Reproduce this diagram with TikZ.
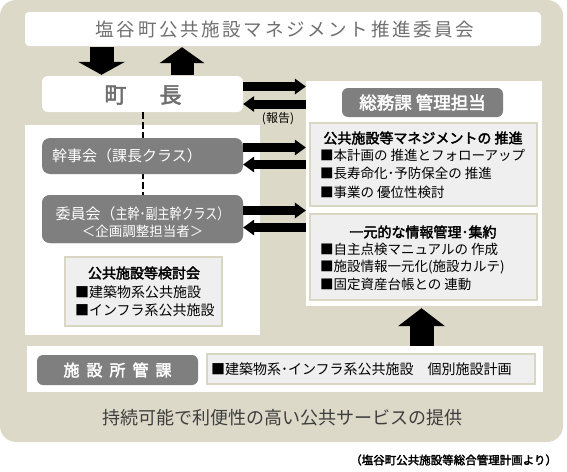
\documentclass[tikz,border=0pt]{standalone}
\usepackage{graphicx}
\usepackage{fontspec}
\setmainfont{Noto Sans CJK JP}[AutoFakeBold=2.5]
\usetikzlibrary{arrows.meta,fit}
\definecolor{beige}{RGB}{221,217,200}
\definecolor{boxgray}{RGB}{127,127,127}
\definecolor{lfill}{RGB}{239,239,239}
\definecolor{lborder}{RGB}{218,214,196}
\definecolor{titlegray}{RGB}{112,112,112}
\definecolor{chougray}{RGB}{110,110,110}
\definecolor{maintext}{RGB}{62,62,62}
\begin{document}
\begin{tikzpicture}[x=1pt,y=-1pt,
  panel/.style={fill=white,inner sep=0pt,draw=none},
  gbox/.style={fill=boxgray,inner sep=0pt,rounded corners=6pt},
  lbox/.style={fill=lfill,draw=lborder,line width=2.5pt,inner sep=0pt},
  txt/.style={inner sep=0pt,outer sep=0pt},
  item/.style={txt,anchor=west,font=\fontsize{13.5}{15}\selectfont},
  head/.style={txt,font=\bfseries\fontsize{14}{16}\selectfont},
  harrow/.style={line width=9pt,-{Triangle[width=16pt,length=11pt,line width=0pt]}},
]
\useasboundingbox (0,0) rectangle (567,471);
% background
\node[fill=beige,rounded corners=16pt,inner sep=0pt,fit={(0,0) (563,442)}] (bg) {};
% panels
\node[panel,rounded corners=4pt,fit={(25,12) (541,46)}] (topbar) {};
\node[panel,rounded corners=6pt,fit={(42,76) (243,112)}] (chou) {};
\node[panel,fit={(306,81) (542,306)}] (rpanel) {};
\node[panel,fit={(25,125) (260,335)}] (lpanel) {};
\node[panel,fit={(27,346) (543,392)}] (bpanel) {};
% dashed line
\coordinate (dx) at (143,0);
\node[gbox,rounded corners=8pt,fit={(42,195) (243,243)}] (iin) {};
\draw[line width=2.5pt,dash pattern=on 6.5pt off 3.5pt] (chou.south -| dx) -- (iin.north -| dx);
% gray boxes
\node[gbox,rounded corners=8pt,fit={(42,138) (243,174)}] (kanji) {};
\node[gbox,rounded corners=8pt,fit={(42,195) (243,243)}] (iin2) {};
\node[gbox,fit={(342,88) (503,117)}] (soumu) {};
\node[gbox,fit={(37,355) (198,385)}] (shisetsu) {};
% light boxes
\node[lbox,fit={(310,123) (537,206)}] (box1) {};
\node[lbox,fit={(310,214) (537,300)}] (box2) {};
\node[lbox,fit={(65,257) (222,326)}] (kentou) {};
\node[lbox,fit={(207,354) (535,384)}] (bbox) {};
% texts
\node[txt,text=titlegray,font=\fontsize{18.5}{20}\selectfont\addfontfeatures{LetterSpace=14.5}] (title) at (285,29.5) {塩谷町公共施設マネジメント推進委員会};
\node[txt,text=chougray,font=\bfseries\fontsize{22}{24}\selectfont] (choutxt) at (143,95) {町\hspace{33pt}長};
\node[txt,text=white,font=\bfseries\fontsize{17.5}{19}\selectfont] (soumutxt) at (soumu.center) {総務課 管理担当};
\node[txt,text=white,font=\fontsize{15}{17}\selectfont] (kanjitxt) at (127,156) {幹事会（課長クラス）};
\node[txt,text=white,font=\fontsize{15}{17}\selectfont] (iintxt1) at (142.5,214) {委員会（\scalebox{0.8}[1]{主幹･副主幹クラス）}};
\node[txt,text=white,font=\fontsize{13.5}{15}\selectfont] (iintxt2) at (142.5,231) {＜企画調整担当者＞};
\node[txt,font=\fontsize{12}{13}\selectfont] (houkoku) at (278,118.5) {(報告)};
% box1
\node[head] (b1h) at (423,138) {公共施設等マネジメントの 推進};
\node[item] (b1a) at (320,155.5) {■本計画の 推進とフォローアップ};
\node[item] (b1b) at (320,173.5) {■長寿命化･予防保全の 推進};
\node[item] (b1c) at (320,192) {■事業の 優位性検討};
% box2
\node[head] (b2h) at (423,232) {一元的な情報管理･集約};
\node[item] (b2a) at (320,249.5) {■自主点検マニュアルの 作成};
\node[item] (b2b) at (320,267) {■施設情報一元化(施設カルテ)};
\node[item] (b2c) at (320,284.5) {■固定資産台帳との 連動};
% kentou
\node[head] (kh) at (144,273) {公共施設等検討会};
\node[item,font=\fontsize{14}{15}\selectfont] (ka) at (75,292) {■建築物系公共施設};
\node[item,font=\fontsize{14}{15}\selectfont] (kb) at (75,310) {■インフラ系公共施設};
% bottom
\node[txt,text=white,font=\bfseries\fontsize{16}{18}\selectfont] (shtxt) at (shisetsu.center) {施\hspace{7pt}設\hspace{7pt}所\hspace{7pt}管\hspace{7pt}課};
\node[item,font=\fontsize{14}{15}\selectfont] (btxt) at (211,369.5) {■建築物系･インフラ系公共施設　個別施設計画};
\node[txt,text=maintext,font=\fontsize{18}{20}\selectfont] (main) at (282,418) {持続可能で利便性の高い公共サービスの提供};
\node[txt,anchor=east,font=\bfseries\fontsize{11.5}{13}\selectfont] (src) at (557,460) {（塩谷町公共施設等総合管理計画より）};
% vertical arrows
\coordinate (v1) at (101.5,0);
\coordinate (v2) at (182,0);
\coordinate (v3) at (421.5,0);
\draw[line width=24pt,-{Triangle[width=47pt,length=13pt,line width=0pt]},shorten <=1pt,shorten >=1pt] (topbar.south -| v1) -- (chou.north -| v1);
\draw[line width=23pt,-{Triangle[width=45pt,length=16pt,line width=0pt]},shorten <=1pt,shorten >=1pt] (chou.north -| v2) -- (topbar.south -| v2);
\draw[line width=24pt,-{Triangle[width=47pt,length=18pt,line width=0pt]},shorten >=2pt] (bpanel.north -| v3) -- (rpanel.south -| v3);
% horizontal arrows
\coordinate (h1) at (0,86.5);
\coordinate (h2) at (0,104);
\coordinate (h3) at (0,147.5);
\coordinate (h4) at (0,164.5);
\coordinate (h5) at (0,210.5);
\coordinate (h6) at (0,227.5);
\draw[harrow] (chou.east |- h1) -- (rpanel.west |- h1);
\draw[harrow] (rpanel.west |- h2) -- (chou.east |- h2);
\draw[harrow] (kanji.east |- h3) -- (rpanel.west |- h3);
\draw[harrow] (rpanel.west |- h4) -- (kanji.east |- h4);
\draw[harrow] (iin2.east |- h5) -- (rpanel.west |- h5);
\draw[harrow] (rpanel.west |- h6) -- (iin2.east |- h6);
\end{tikzpicture}
\end{document}
